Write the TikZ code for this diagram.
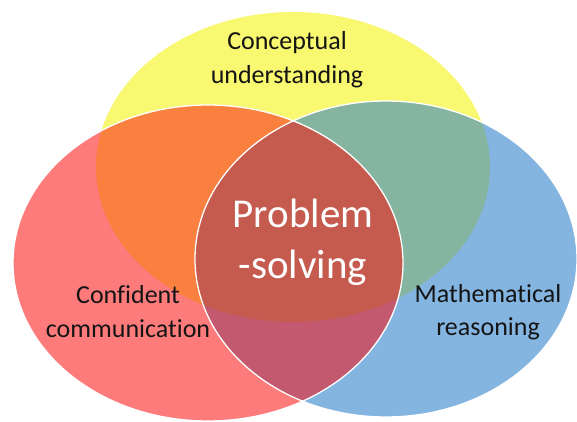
\documentclass[tikz,border=0pt]{standalone}
\usepackage{fontspec}
\setmainfont{Carlito}[Ligatures={NoCommon,NoRare,NoContextual}]
\definecolor{cyellow}{RGB}{249,248,113}
\definecolor{cred}{RGB}{253,123,123}
\definecolor{cblue}{RGB}{132,180,224}
\definecolor{corange}{RGB}{249,128,62}
\definecolor{cgreen}{RGB}{133,181,160}
\definecolor{cmauve}{RGB}{194,89,110}
\definecolor{ccenter}{RGB}{197,91,78}
\definecolor{ctext}{RGB}{20,20,20}
\tikzset{
  lbl/.style={align=center, text=ctext, font=\fontsize{26}{32}\selectfont, inner sep=0pt},
  mainlbl/.style={align=center, text=white, font=\fontsize{41}{51}\selectfont, inner sep=0pt},
  rim/.style={draw=white, line width=1.3pt}
}
\newcommand{\ellY}{(293,167) ellipse [x radius=197, y radius=155]}
\newcommand{\ellR}{(208,263) ellipse [x radius=195, y radius=158]}
\newcommand{\ellB}{(386,259) ellipse [x radius=191, y radius=158]}
\begin{document}
\begin{tikzpicture}[x=1pt,y=-1pt]
\useasboundingbox (0,0) rectangle (577,422);
\fill[cyellow] \ellY;
\fill[cred] \ellR;
\fill[cblue] \ellB;
\begin{scope}
  \clip \ellY;
  \fill[corange] \ellR;
  \fill[cgreen] \ellB;
\end{scope}
\begin{scope}
  \clip \ellR;
  \fill[cmauve] \ellB;
  \clip \ellY;
  \fill[ccenter] \ellB;
\end{scope}
\path[rim] \ellR;
\path[rim] \ellB;
\node[lbl, anchor=base] (cu1) at (287,50) {Conceptual};
\node[lbl, anchor=base] (cu2) at (287,84) {understanding};
\node[lbl, anchor=base] (cc1) at (128,303) {Confident};
\node[lbl, anchor=base] (cc2) at (128,337) {communication};
\node[lbl, anchor=base] (mr1) at (488,302) {Mathematical};
\node[lbl, anchor=base] (mr2) at (488,335) {reasoning};
\node[mainlbl, anchor=base] (ps1) at (303,227) {Problem};
\node[mainlbl, anchor=base] (ps2) at (303,278) {-solving};
\end{tikzpicture}
\end{document}
